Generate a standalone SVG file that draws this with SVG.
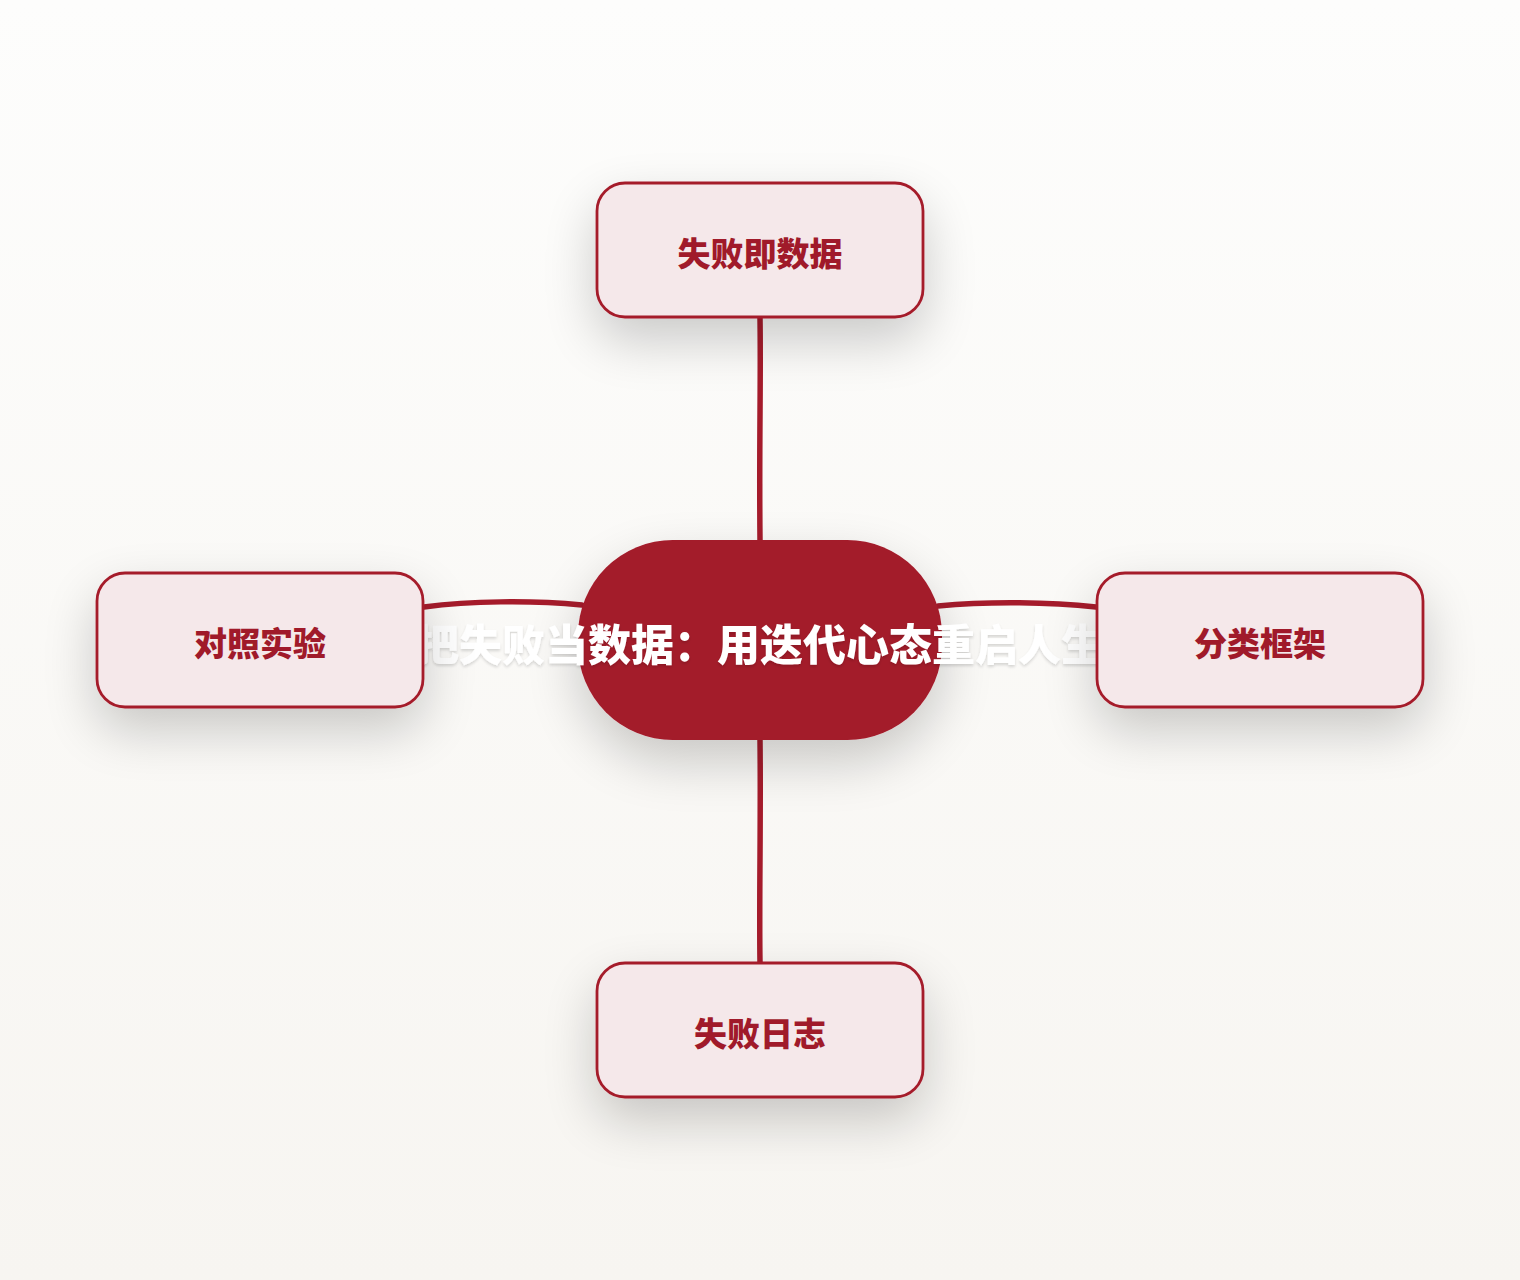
<svg xmlns="http://www.w3.org/2000/svg" width="1520" height="1280" viewBox="0 0 1520 1280">
<defs>
<linearGradient id="bg" x1="0" y1="0" x2="0" y2="1">
<stop offset="0" stop-color="#fdfdfc"/>
<stop offset="1" stop-color="#f7f5f1"/>
</linearGradient>
<filter id="sh" x="-50%" y="-80%" width="200%" height="280%">
<feGaussianBlur in="SourceAlpha" stdDeviation="26"/>
<feOffset dy="22" result="b"/>
<feComponentTransfer><feFuncA type="linear" slope="0.2"/></feComponentTransfer>
<feMerge><feMergeNode/><feMergeNode in="SourceGraphic"/></feMerge>
</filter>
<filter id="tsh" x="-10%" y="-50%" width="120%" height="200%">
<feGaussianBlur in="SourceAlpha" stdDeviation="1.5"/>
<feOffset dy="1.5"/>
<feComponentTransfer><feFuncA type="linear" slope="0.15"/></feComponentTransfer>
<feMerge><feMergeNode/><feMergeNode in="SourceGraphic"/></feMerge>
</filter>
</defs>
<style>
.conn{fill:none;stroke:#a51b2b;stroke-width:5.5;stroke-linecap:round}
.box{fill:#f5e8ea;stroke:#a51b2b;stroke-width:2.8}
.lbl{font-family:"Noto Sans CJK SC","Noto Sans",sans-serif;font-weight:900;font-size:33px;fill:#a01a2a;text-anchor:middle;dominant-baseline:central}
.ctr{font-family:"Noto Sans CJK SC","Noto Sans",sans-serif;font-weight:900;font-size:43px;fill:#ffffff;text-anchor:middle;dominant-baseline:central}
</style>
<rect width="1520" height="1280" fill="url(#bg)"/>
<g id="connectors">
<path class="conn" d="M760,318 C761,380 759,440 760,540"/>
<path class="conn" d="M760,740 C761,820 759,900 760,962"/>
<path class="conn" d="M424,607 C470,601 530,600 582,605"/>
<path class="conn" d="M938,606 C990,601 1050,602 1096,607"/>
</g>
<g id="center">
<rect x="578" y="540" width="364" height="200" rx="95" ry="95" fill="#a31a2a" filter="url(#sh)"/>
<text class="ctr" x="760" y="642" filter="url(#tsh)">把失败当数据：用迭代心态重启人生</text>
</g>
<g id="node-top">
<rect class="box" x="597" y="183" width="326" height="134" rx="28" filter="url(#sh)"/>
<text class="lbl" x="760" y="252">失败即数据</text>
</g>
<g id="node-left">
<rect class="box" x="97" y="573" width="326" height="134" rx="28" filter="url(#sh)"/>
<text class="lbl" x="260" y="642">对照实验</text>
</g>
<g id="node-right">
<rect class="box" x="1097" y="573" width="326" height="134" rx="28" filter="url(#sh)"/>
<text class="lbl" x="1260" y="642">分类框架</text>
</g>
<g id="node-bottom">
<rect class="box" x="597" y="963" width="326" height="134" rx="28" filter="url(#sh)"/>
<text class="lbl" x="760" y="1032">失败日志</text>
</g>
</svg>
